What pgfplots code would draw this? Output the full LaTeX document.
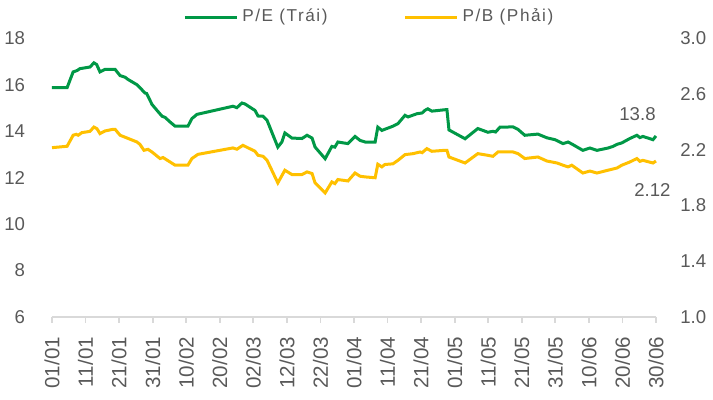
\documentclass[border=0pt]{standalone}
\usepackage{fontspec}
\setmainfont{Liberation Sans}
\usepackage{pgfplots}
\pgfplotsset{compat=1.18}
\definecolor{pegreen}{HTML}{009846}
\definecolor{pbyellow}{HTML}{FFC000}
\definecolor{txtgray}{HTML}{595959}
\definecolor{axgray}{HTML}{D9D9D9}

\pgfplotstableread{
day pe
0 15.88
4.5 15.88
6.3 16.56
7.5 16.62
8.3 16.70
11.3 16.77
12.5 16.95
13.3 16.88
14.3 16.56
15.8 16.67
18.8 16.67
20.3 16.40
21.8 16.33
22.6 16.24
25.3 16.01
26.8 15.79
27.7 15.65
28.2 15.63
29.8 15.16
31.3 14.90
32.8 14.65
33.7 14.60
35.2 14.40
36.7 14.22
40.5 14.22
41.7 14.55
43.2 14.73
53.9 15.08
55.1 15.02
56.6 15.22
57.5 15.18
60.5 14.90
61.4 14.66
62.9 14.65
64.1 14.47
67.3 13.32
68.5 13.54
69.4 13.93
71.5 13.71
74.5 13.69
76.0 13.83
77.5 13.71
78.4 13.32
81.4 12.82
83.4 13.35
84.3 13.32
85.2 13.54
88.2 13.47
90.3 13.78
91.8 13.61
93.3 13.54
96.3 13.54
97.1 14.18
98.3 14.04
101.6 14.22
103.1 14.33
105.2 14.69
106.1 14.62
108.8 14.76
110.3 14.79
111.1 14.90
112.0 14.97
113.2 14.87
117.1 14.93
117.7 14.93
118.3 14.06
123.1 13.68
126.9 14.12
129.9 13.96
131.4 14.00
132.2 13.97
133.5 14.18
137.4 14.19
138.9 14.08
140.9 13.83
144.8 13.88
147.5 13.72
149.9 13.64
152.3 13.47
153.8 13.54
155.2 13.43
158.2 13.18
160.3 13.28
162.4 13.18
165.7 13.28
167.2 13.35
168.4 13.44
169.8 13.50
172.2 13.69
174.3 13.83
175.2 13.73
176.1 13.78
179.1 13.64
180 13.80
}\petable

\pgfplotstableread{
day pb
0 2.216
4.5 2.226
6.3 2.305
7.2 2.312
7.8 2.305
8.9 2.324
11.3 2.333
12.5 2.364
13.4 2.352
14.3 2.317
15.8 2.336
18.2 2.348
18.8 2.348
20.3 2.305
22.4 2.285
25.3 2.257
26.2 2.240
27.4 2.197
28.6 2.204
29.8 2.185
32.2 2.138
33.1 2.145
36.7 2.090
40.5 2.090
41.7 2.138
43.5 2.168
53.9 2.214
55.1 2.205
56.9 2.233
60.5 2.190
61.4 2.161
62.9 2.154
64.1 2.125
67.3 1.963
69.4 2.054
71.5 2.023
74.5 2.023
76.0 2.042
77.5 2.030
78.4 1.963
81.4 1.891
83.4 1.970
84.3 1.958
85.2 1.987
88.2 1.977
90.3 2.034
91.8 2.011
93.3 2.006
96.3 2.000
97.1 2.097
98.3 2.078
99.2 2.095
101.6 2.100
103.1 2.125
105.2 2.166
107.6 2.173
109.7 2.185
110.3 2.180
111.7 2.209
113.2 2.190
117.1 2.197
117.7 2.197
118.3 2.149
123.1 2.106
126.9 2.173
129.9 2.161
131.4 2.154
132.9 2.185
137.4 2.185
138.9 2.173
140.9 2.138
144.8 2.149
147.5 2.120
150.5 2.106
152.3 2.090
153.8 2.078
154.9 2.090
158.2 2.034
160.3 2.048
162.4 2.034
165.7 2.054
168.4 2.070
169.8 2.090
172.2 2.113
174.3 2.138
175.2 2.118
176.1 2.125
179.1 2.106
180 2.120
}\pbtable

\begin{document}
\begin{tikzpicture}
\path[use as bounding box] (-26pt,-41.5pt) rectangle (330.5pt,158.5pt);
\begin{axis}[
  at={(0pt,0pt)}, anchor=origin,
  width=302pt, height=139.25pt, scale only axis,
  xmin=0, xmax=180, ymin=6, ymax=18,
  ytick={6,8,...,18},
  xtick={0,10,...,180},
  xticklabels={01/01,11/01,21/01,31/01,10/02,20/02,02/03,12/03,22/03,01/04,11/04,21/04,01/05,11/05,21/05,31/05,10/06,20/06,30/06},
  axis x line*=bottom, axis y line*=left,
  x axis line style={draw=axgray, line width=0.9pt, -},
  y axis line style={draw=none},
  xtick style={draw=axgray, line width=0.9pt},
  ytick style={draw=none},
  tick align=outside, major tick length=2.8pt,
  /pgf/number format/assume math mode=true,
  tick label style={font=\fontsize{9.3}{10}\selectfont, text=txtgray},
  yticklabel style={inner sep=0pt, anchor=east, xshift=-10.5pt},
  xticklabel style={inner sep=0pt, yshift=-7pt, rotate=90, anchor=east, font=\fontsize{10.3}{11}\selectfont},
  legend style={draw=none, fill=none, at={(0.527,1.077)}, anchor=center,
    font=\fontsize{8.6}{10}\selectfont\addfontfeatures{LetterSpace=9}, text=txtgray,
    legend columns=2, /tikz/every even column/.append style={column sep=36pt},
    inner sep=0pt},
  legend image code/.code={\draw[#1, line width=1.5pt] (0pt,0pt) -- (26pt,0pt);},
  clip=false,
]
\addplot[pegreen, line width=1.5pt] table[x=day, y=pe] {\petable};
\addlegendentry{P/E (Trái)}
\addlegendimage{pbyellow, line width=1.5pt}
\addlegendentry{P/B (Phải)}
\node[anchor=east, inner sep=0pt, text=txtgray, font=\fontsize{9.3}{10}\selectfont] at (axis cs:180,13.8) [yshift=10.8pt] {13.8};
\end{axis}
\begin{axis}[
  at={(0pt,0pt)}, anchor=origin,
  width=302pt, height=139.25pt, scale only axis,
  xmin=0, xmax=180, ymin=1.0, ymax=3.0,
  ytick={1.0,1.4,...,3.0},
  yticklabel={\pgfmathprintnumber[fixed, fixed zerofill, precision=1]{\tick}},
  axis x line=none, axis y line*=right,
  y axis line style={draw=none},
  ytick style={draw=none},
  /pgf/number format/assume math mode=true,
  tick label style={font=\fontsize{9.3}{10}\selectfont, text=txtgray},
  yticklabel style={inner sep=0pt, anchor=west, xshift=12pt},
  clip=false,
]
\addplot[pbyellow, line width=1.5pt] table[x=day, y=pb] {\pbtable};
\node[anchor=center, inner sep=0pt, text=txtgray, font=\fontsize{9.3}{10}\selectfont] at (axis cs:180,2.12) [xshift=-1.8pt, yshift=-14.5pt] {2.12};
\end{axis}
\end{tikzpicture}
\end{document}
